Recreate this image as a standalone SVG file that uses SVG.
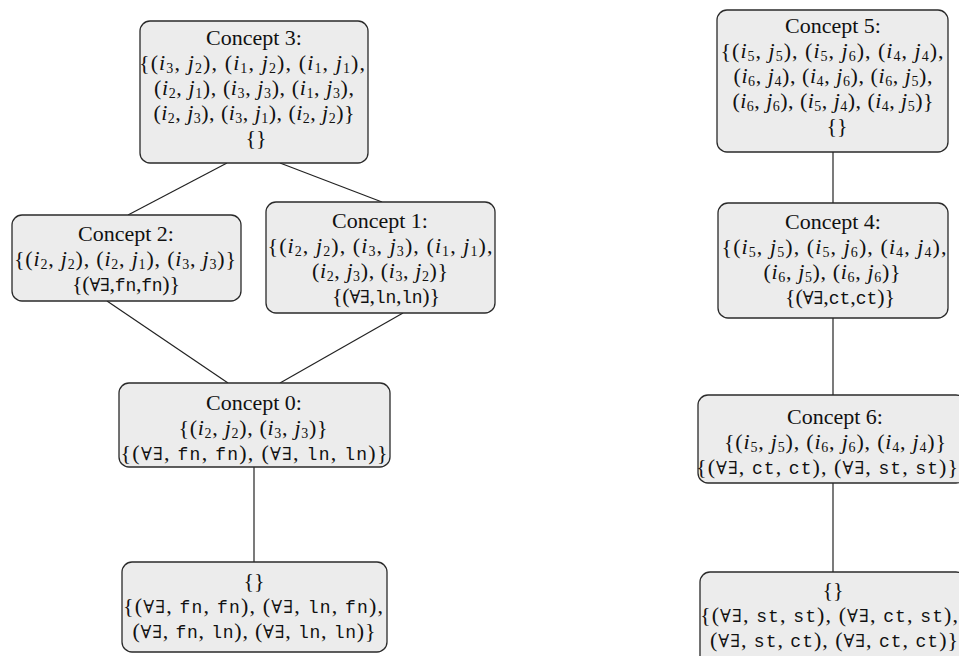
<svg xmlns="http://www.w3.org/2000/svg" width="959" height="656" viewBox="0 0 959 656">
<style>
.n rect{fill:#ececec;stroke:#2a2a2a;stroke-width:1.3}
text{font-family:"Liberation Serif","DejaVu Serif",serif;font-size:22px;fill:#111;text-anchor:middle}
.m{font-style:italic}
.s{font-size:14px}
.t{font-family:"Liberation Mono","DejaVu Sans Mono",monospace;font-size:18px}
.q{font-family:"DejaVu Serif","Liberation Serif",serif;font-size:18px}
.c line{stroke:#222;stroke-width:1.2}
</style>
<rect width="959" height="656" fill="#fff"/>
<g class="c" id="connectors">
<line x1="227" y1="163" x2="128" y2="215"/>
<line x1="280" y1="163" x2="382" y2="202"/>
<line x1="107" y1="301" x2="228" y2="383"/>
<line x1="403" y1="313" x2="280" y2="383"/>
<line x1="254" y1="467" x2="254" y2="562"/>
<line x1="833" y1="152" x2="833" y2="203"/>
<line x1="833" y1="318" x2="833" y2="395"/>
<line x1="833" y1="483" x2="833" y2="572"/>
</g>
<g class="n" id="concept3">
<rect x="140" y="21" width="228" height="142" rx="10"/>
<text x="254" y="45">Concept 3:</text>
<text x="252" y="70" textLength="226" lengthAdjust="spacing">{(<tspan class="m">i</tspan><tspan class="s" dy="3">3</tspan><tspan dy="-3">, </tspan><tspan class="m">j</tspan><tspan class="s" dy="3">2</tspan><tspan dy="-3">)</tspan>, (<tspan class="m">i</tspan><tspan class="s" dy="3">1</tspan><tspan dy="-3">, </tspan><tspan class="m">j</tspan><tspan class="s" dy="3">2</tspan><tspan dy="-3">)</tspan>, (<tspan class="m">i</tspan><tspan class="s" dy="3">1</tspan><tspan dy="-3">, </tspan><tspan class="m">j</tspan><tspan class="s" dy="3">1</tspan><tspan dy="-3">)</tspan>,</text>
<text x="254" y="95" textLength="200" lengthAdjust="spacing">(<tspan class="m">i</tspan><tspan class="s" dy="3">2</tspan><tspan dy="-3">, </tspan><tspan class="m">j</tspan><tspan class="s" dy="3">1</tspan><tspan dy="-3">)</tspan>, (<tspan class="m">i</tspan><tspan class="s" dy="3">3</tspan><tspan dy="-3">, </tspan><tspan class="m">j</tspan><tspan class="s" dy="3">3</tspan><tspan dy="-3">)</tspan>, (<tspan class="m">i</tspan><tspan class="s" dy="3">1</tspan><tspan dy="-3">, </tspan><tspan class="m">j</tspan><tspan class="s" dy="3">3</tspan><tspan dy="-3">)</tspan>,</text>
<text x="254" y="120" textLength="201" lengthAdjust="spacing">(<tspan class="m">i</tspan><tspan class="s" dy="3">2</tspan><tspan dy="-3">, </tspan><tspan class="m">j</tspan><tspan class="s" dy="3">3</tspan><tspan dy="-3">)</tspan>, (<tspan class="m">i</tspan><tspan class="s" dy="3">3</tspan><tspan dy="-3">, </tspan><tspan class="m">j</tspan><tspan class="s" dy="3">1</tspan><tspan dy="-3">)</tspan>, (<tspan class="m">i</tspan><tspan class="s" dy="3">2</tspan><tspan dy="-3">, </tspan><tspan class="m">j</tspan><tspan class="s" dy="3">2</tspan><tspan dy="-3">)</tspan>}</text>
<text x="256" y="145">{}</text>
</g>
<g class="n" id="concept2">
<rect x="12" y="215" width="229" height="86" rx="10"/>
<text x="126" y="241">Concept 2:</text>
<text x="125" y="266" textLength="222" lengthAdjust="spacing">{(<tspan class="m">i</tspan><tspan class="s" dy="3">2</tspan><tspan dy="-3">, </tspan><tspan class="m">j</tspan><tspan class="s" dy="3">2</tspan><tspan dy="-3">)</tspan>, (<tspan class="m">i</tspan><tspan class="s" dy="3">2</tspan><tspan dy="-3">, </tspan><tspan class="m">j</tspan><tspan class="s" dy="3">1</tspan><tspan dy="-3">)</tspan>, (<tspan class="m">i</tspan><tspan class="s" dy="3">3</tspan><tspan dy="-3">, </tspan><tspan class="m">j</tspan><tspan class="s" dy="3">3</tspan><tspan dy="-3">)</tspan>}</text>
<text x="126" y="291" textLength="108" lengthAdjust="spacing">{(<tspan class="q">∀∃</tspan>,<tspan class="t">fn</tspan>,<tspan class="t">fn</tspan>)}</text>
</g>
<g class="n" id="concept1">
<rect x="266" y="202" width="229" height="111" rx="10"/>
<text x="380" y="228">Concept 1:</text>
<text x="380" y="253" textLength="225" lengthAdjust="spacing">{(<tspan class="m">i</tspan><tspan class="s" dy="3">2</tspan><tspan dy="-3">, </tspan><tspan class="m">j</tspan><tspan class="s" dy="3">2</tspan><tspan dy="-3">)</tspan>, (<tspan class="m">i</tspan><tspan class="s" dy="3">3</tspan><tspan dy="-3">, </tspan><tspan class="m">j</tspan><tspan class="s" dy="3">3</tspan><tspan dy="-3">)</tspan>, (<tspan class="m">i</tspan><tspan class="s" dy="3">1</tspan><tspan dy="-3">, </tspan><tspan class="m">j</tspan><tspan class="s" dy="3">1</tspan><tspan dy="-3">)</tspan>,</text>
<text x="380" y="278" textLength="136" lengthAdjust="spacing">(<tspan class="m">i</tspan><tspan class="s" dy="3">2</tspan><tspan dy="-3">, </tspan><tspan class="m">j</tspan><tspan class="s" dy="3">3</tspan><tspan dy="-3">)</tspan>, (<tspan class="m">i</tspan><tspan class="s" dy="3">3</tspan><tspan dy="-3">, </tspan><tspan class="m">j</tspan><tspan class="s" dy="3">2</tspan><tspan dy="-3">)</tspan>}</text>
<text x="386" y="303" textLength="108" lengthAdjust="spacing">{(<tspan class="q">∀∃</tspan>,<tspan class="t">ln</tspan>,<tspan class="t">ln</tspan>)}</text>
</g>
<g class="n" id="concept0">
<rect x="119" y="383" width="271" height="84" rx="10"/>
<text x="254" y="410">Concept 0:</text>
<text x="253" y="435" textLength="149" lengthAdjust="spacing">{(<tspan class="m">i</tspan><tspan class="s" dy="3">2</tspan><tspan dy="-3">, </tspan><tspan class="m">j</tspan><tspan class="s" dy="3">2</tspan><tspan dy="-3">)</tspan>, (<tspan class="m">i</tspan><tspan class="s" dy="3">3</tspan><tspan dy="-3">, </tspan><tspan class="m">j</tspan><tspan class="s" dy="3">3</tspan><tspan dy="-3">)</tspan>}</text>
<text x="254" y="460" textLength="267" lengthAdjust="spacing">{(<tspan class="q">∀∃</tspan>, <tspan class="t">fn</tspan>, <tspan class="t">fn</tspan>), (<tspan class="q">∀∃</tspan>, <tspan class="t">ln</tspan>, <tspan class="t">ln</tspan>)}</text>
</g>
<g class="n" id="bottomLeft">
<rect x="122" y="562" width="265" height="90" rx="10"/>
<text x="254" y="588">{}</text>
<text x="253" y="613" textLength="260" lengthAdjust="spacing">{(<tspan class="q">∀∃</tspan>, <tspan class="t">fn</tspan>, <tspan class="t">fn</tspan>), (<tspan class="q">∀∃</tspan>, <tspan class="t">ln</tspan>, <tspan class="t">fn</tspan>),</text>
<text x="254" y="638" textLength="243" lengthAdjust="spacing">(<tspan class="q">∀∃</tspan>, <tspan class="t">fn</tspan>, <tspan class="t">ln</tspan>), (<tspan class="q">∀∃</tspan>, <tspan class="t">ln</tspan>, <tspan class="t">ln</tspan>)}</text>
</g>
<g class="n" id="concept5">
<rect x="717" y="10" width="231" height="142" rx="10"/>
<text x="833" y="33">Concept 5:</text>
<text x="832" y="58" textLength="223" lengthAdjust="spacing">{(<tspan class="m">i</tspan><tspan class="s" dy="3">5</tspan><tspan dy="-3">, </tspan><tspan class="m">j</tspan><tspan class="s" dy="3">5</tspan><tspan dy="-3">)</tspan>, (<tspan class="m">i</tspan><tspan class="s" dy="3">5</tspan><tspan dy="-3">, </tspan><tspan class="m">j</tspan><tspan class="s" dy="3">6</tspan><tspan dy="-3">)</tspan>, (<tspan class="m">i</tspan><tspan class="s" dy="3">4</tspan><tspan dy="-3">, </tspan><tspan class="m">j</tspan><tspan class="s" dy="3">4</tspan><tspan dy="-3">)</tspan>,</text>
<text x="833" y="83" textLength="199" lengthAdjust="spacing">(<tspan class="m">i</tspan><tspan class="s" dy="3">6</tspan><tspan dy="-3">, </tspan><tspan class="m">j</tspan><tspan class="s" dy="3">4</tspan><tspan dy="-3">)</tspan>, (<tspan class="m">i</tspan><tspan class="s" dy="3">4</tspan><tspan dy="-3">, </tspan><tspan class="m">j</tspan><tspan class="s" dy="3">6</tspan><tspan dy="-3">)</tspan>, (<tspan class="m">i</tspan><tspan class="s" dy="3">6</tspan><tspan dy="-3">, </tspan><tspan class="m">j</tspan><tspan class="s" dy="3">5</tspan><tspan dy="-3">)</tspan>,</text>
<text x="833" y="108" textLength="201" lengthAdjust="spacing">(<tspan class="m">i</tspan><tspan class="s" dy="3">6</tspan><tspan dy="-3">, </tspan><tspan class="m">j</tspan><tspan class="s" dy="3">6</tspan><tspan dy="-3">)</tspan>, (<tspan class="m">i</tspan><tspan class="s" dy="3">5</tspan><tspan dy="-3">, </tspan><tspan class="m">j</tspan><tspan class="s" dy="3">4</tspan><tspan dy="-3">)</tspan>, (<tspan class="m">i</tspan><tspan class="s" dy="3">4</tspan><tspan dy="-3">, </tspan><tspan class="m">j</tspan><tspan class="s" dy="3">5</tspan><tspan dy="-3">)</tspan>}</text>
<text x="837" y="133">{}</text>
</g>
<g class="n" id="concept4">
<rect x="718" y="203" width="230" height="115" rx="10"/>
<text x="833" y="229">Concept 4:</text>
<text x="834" y="254" textLength="225" lengthAdjust="spacing">{(<tspan class="m">i</tspan><tspan class="s" dy="3">5</tspan><tspan dy="-3">, </tspan><tspan class="m">j</tspan><tspan class="s" dy="3">5</tspan><tspan dy="-3">)</tspan>, (<tspan class="m">i</tspan><tspan class="s" dy="3">5</tspan><tspan dy="-3">, </tspan><tspan class="m">j</tspan><tspan class="s" dy="3">6</tspan><tspan dy="-3">)</tspan>, (<tspan class="m">i</tspan><tspan class="s" dy="3">4</tspan><tspan dy="-3">, </tspan><tspan class="m">j</tspan><tspan class="s" dy="3">4</tspan><tspan dy="-3">)</tspan>,</text>
<text x="832" y="279" textLength="137" lengthAdjust="spacing">(<tspan class="m">i</tspan><tspan class="s" dy="3">6</tspan><tspan dy="-3">, </tspan><tspan class="m">j</tspan><tspan class="s" dy="3">5</tspan><tspan dy="-3">)</tspan>, (<tspan class="m">i</tspan><tspan class="s" dy="3">6</tspan><tspan dy="-3">, </tspan><tspan class="m">j</tspan><tspan class="s" dy="3">6</tspan><tspan dy="-3">)</tspan>}</text>
<text x="840" y="304" textLength="110" lengthAdjust="spacing">{(<tspan class="q">∀∃</tspan>,<tspan class="t">ct</tspan>,<tspan class="t">ct</tspan>)}</text>
</g>
<g class="n" id="concept6">
<rect x="698" y="395" width="268" height="88" rx="10"/>
<text x="835" y="424">Concept 6:</text>
<text x="835" y="449" textLength="222" lengthAdjust="spacing">{(<tspan class="m">i</tspan><tspan class="s" dy="3">5</tspan><tspan dy="-3">, </tspan><tspan class="m">j</tspan><tspan class="s" dy="3">5</tspan><tspan dy="-3">)</tspan>, (<tspan class="m">i</tspan><tspan class="s" dy="3">6</tspan><tspan dy="-3">, </tspan><tspan class="m">j</tspan><tspan class="s" dy="3">6</tspan><tspan dy="-3">)</tspan>, (<tspan class="m">i</tspan><tspan class="s" dy="3">4</tspan><tspan dy="-3">, </tspan><tspan class="m">j</tspan><tspan class="s" dy="3">4</tspan><tspan dy="-3">)</tspan>}</text>
<text x="827" y="474" textLength="262" lengthAdjust="spacing">{(<tspan class="q">∀∃</tspan>, <tspan class="t">ct</tspan>, <tspan class="t">ct</tspan>), (<tspan class="q">∀∃</tspan>, <tspan class="t">st</tspan>, <tspan class="t">st</tspan>)}</text>
</g>
<g class="n" id="bottomRight">
<rect x="700" y="572" width="266" height="96" rx="10"/>
<text x="833" y="597">{}</text>
<text x="829" y="622" textLength="258" lengthAdjust="spacing">{(<tspan class="q">∀∃</tspan>, <tspan class="t">st</tspan>, <tspan class="t">st</tspan>), (<tspan class="q">∀∃</tspan>, <tspan class="t">ct</tspan>, <tspan class="t">st</tspan>),</text>
<text x="834" y="647" textLength="248" lengthAdjust="spacing">(<tspan class="q">∀∃</tspan>, <tspan class="t">st</tspan>, <tspan class="t">ct</tspan>), (<tspan class="q">∀∃</tspan>, <tspan class="t">ct</tspan>, <tspan class="t">ct</tspan>)}</text>
</g>
</svg>
